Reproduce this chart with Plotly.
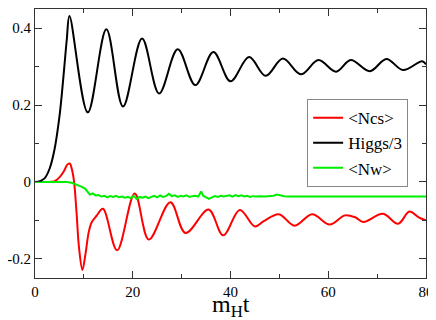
import plotly.graph_objects as go

# Higgs/3 (black)
t_higgs = [0, 1, 2, 3, 4, 5, 5.5, 6, 6.5, 7.05, 10.8, 14.6, 18.0, 21.9, 25.4, 29.2,
           32.8, 36.5, 40.0, 43.8, 47.2, 50.7, 54.4, 58.0, 61.6, 64.6, 68.5, 71.9,
           75.3, 79.2, 80]
higgs = [0, 0.002, 0.01, 0.035, 0.085, 0.17, 0.23, 0.30, 0.37, 0.432, 0.181, 0.397,
         0.196, 0.373, 0.230, 0.345, 0.252, 0.338, 0.262, 0.325, 0.276, 0.321, 0.280,
         0.317, 0.287, 0.317, 0.288, 0.320, 0.291, 0.314, 0.306]

# <Ncs> (red)
t_ncs = [0, 3, 4, 5, 6, 6.6, 7.1, 7.6, 8.0, 8.5, 9.0, 9.7, 10.3, 11.0, 11.6, 12.6,
         13.9, 16.8, 20.4, 23.3, 27.7, 30.8, 35.5, 38.5, 41.9, 45.0, 46.8, 49.9, 53.1,
         56.7, 60.3, 63.4, 65.5, 67.2, 71.2, 74.3, 76.6, 78.5, 80]
ncs = [0, 0, 0.002, 0.012, 0.03, 0.045, 0.048, 0.03, 0.0, -0.08, -0.17, -0.229, -0.19,
       -0.13, -0.105, -0.088, -0.070, -0.178, -0.030, -0.150, -0.053, -0.133, -0.072,
       -0.139, -0.073, -0.116, -0.102, -0.084, -0.114, -0.084, -0.111, -0.087, -0.092,
       -0.104, -0.083, -0.109, -0.077, -0.092, -0.100]

# <Nw> (green)
t_nw = [0, 6.5, 7.5, 8.5, 9.5, 10.3, 10.8, 11.2, 11.8, 12.4, 13, 13.6, 14.2, 14.8, 15.4,
        16, 16.6, 17.2, 17.8, 18.4, 19, 19.6, 20.2, 20.8, 21.4, 22, 22.6, 23.2, 23.8,
        24.4, 25, 25.6, 26.2, 26.8, 27.4, 28, 28.6, 29.2, 29.8, 30.4, 31, 31.6, 32.2,
        32.8, 33.4, 34.0, 34.4, 35, 35.6, 36.2, 36.8, 37.4, 38, 38.6, 39.2, 39.8, 40.4,
        41, 41.6, 42.2, 42.8, 43.4, 44, 44.6, 45.2, 46, 47, 48, 48.8, 49.5, 50.2, 51,
        52, 56, 57, 60, 80]
nw = [0, 0, -0.002, -0.006, -0.012, -0.018, -0.025, -0.033, -0.030, -0.035, -0.034,
      -0.038, -0.036, -0.040, -0.037, -0.039, -0.036, -0.040, -0.038, -0.041, -0.039,
      -0.042, -0.036, -0.044, -0.039, -0.041, -0.038, -0.042, -0.039, -0.036, -0.040,
      -0.035, -0.039, -0.037, -0.031, -0.037, -0.035, -0.039, -0.036, -0.038, -0.035,
      -0.039, -0.037, -0.036, -0.038, -0.025, -0.036, -0.040, -0.044, -0.040, -0.037,
      -0.039, -0.036, -0.038, -0.037, -0.035, -0.038, -0.034, -0.037, -0.035, -0.038,
      -0.036, -0.039, -0.037, -0.038, -0.037, -0.038, -0.037, -0.036, -0.033, -0.035,
      -0.037, -0.038, -0.038, -0.039, -0.038, -0.038]

x_ticks = [0, 20, 40, 60, 80]
y_ticks = [-0.2, 0, 0.2, 0.4]
y_labels = ['-0.2', '0', '0.2', '0.4']

FONT = 'Liberation Serif, Times New Roman, DejaVu Serif, serif'

fig = go.Figure()
fig.add_trace(go.Scatter(x=t_ncs, y=ncs, mode='lines', name='&lt;Ncs&gt;',
                         line=dict(color='#ff0000', width=2, shape='spline', smoothing=1)))
fig.add_trace(go.Scatter(x=t_higgs, y=higgs, mode='lines', name='Higgs/3',
                         line=dict(color='#000000', width=2, shape='spline', smoothing=1)))
fig.add_trace(go.Scatter(x=t_nw, y=nw, mode='lines', name='&lt;Nw&gt;',
                         line=dict(color='#00ee00', width=2)))

axis_common = dict(
    showgrid=False, zeroline=False, showline=True, linecolor='#333', linewidth=1,
    mirror='ticks', ticks='inside', ticklen=7, tickcolor='#333', automargin=False,
    tickfont=dict(family=FONT, size=15, color='black'),
)

# the page body adds an 8px offset, margins below account for it
fig.update_layout(
    width=436, height=320,
    margin=dict(l=27, r=18, t=1, b=50),
    plot_bgcolor='white', paper_bgcolor='white',
    font=dict(family=FONT, color='black'),
    xaxis=dict(range=[0, 80], tickvals=x_ticks,
               minor=dict(dtick=10, ticklen=4, ticks='inside', tickcolor='#333'),
               **axis_common),
    yaxis=dict(range=[-0.25, 0.45], tickvals=y_ticks, ticktext=y_labels,
               minor=dict(dtick=0.1, tick0=0, ticklen=4, ticks='inside', tickcolor='#333'),
               **axis_common),
    legend=dict(x=0.696, y=0.665, xanchor='left', yanchor='top',
                bgcolor='white', bordercolor='#888', borderwidth=1,
                font=dict(family=FONT, size=17), tracegroupgap=0,
                itemwidth=30),
    showlegend=True,
)

fig.add_annotation(text='m<sub>H</sub>t', xref='paper', yref='paper', x=0.5, y=-0.042,
                   xanchor='center', yanchor='top', showarrow=False,
                   font=dict(family=FONT, size=24))

fig.write_html("out.html")
